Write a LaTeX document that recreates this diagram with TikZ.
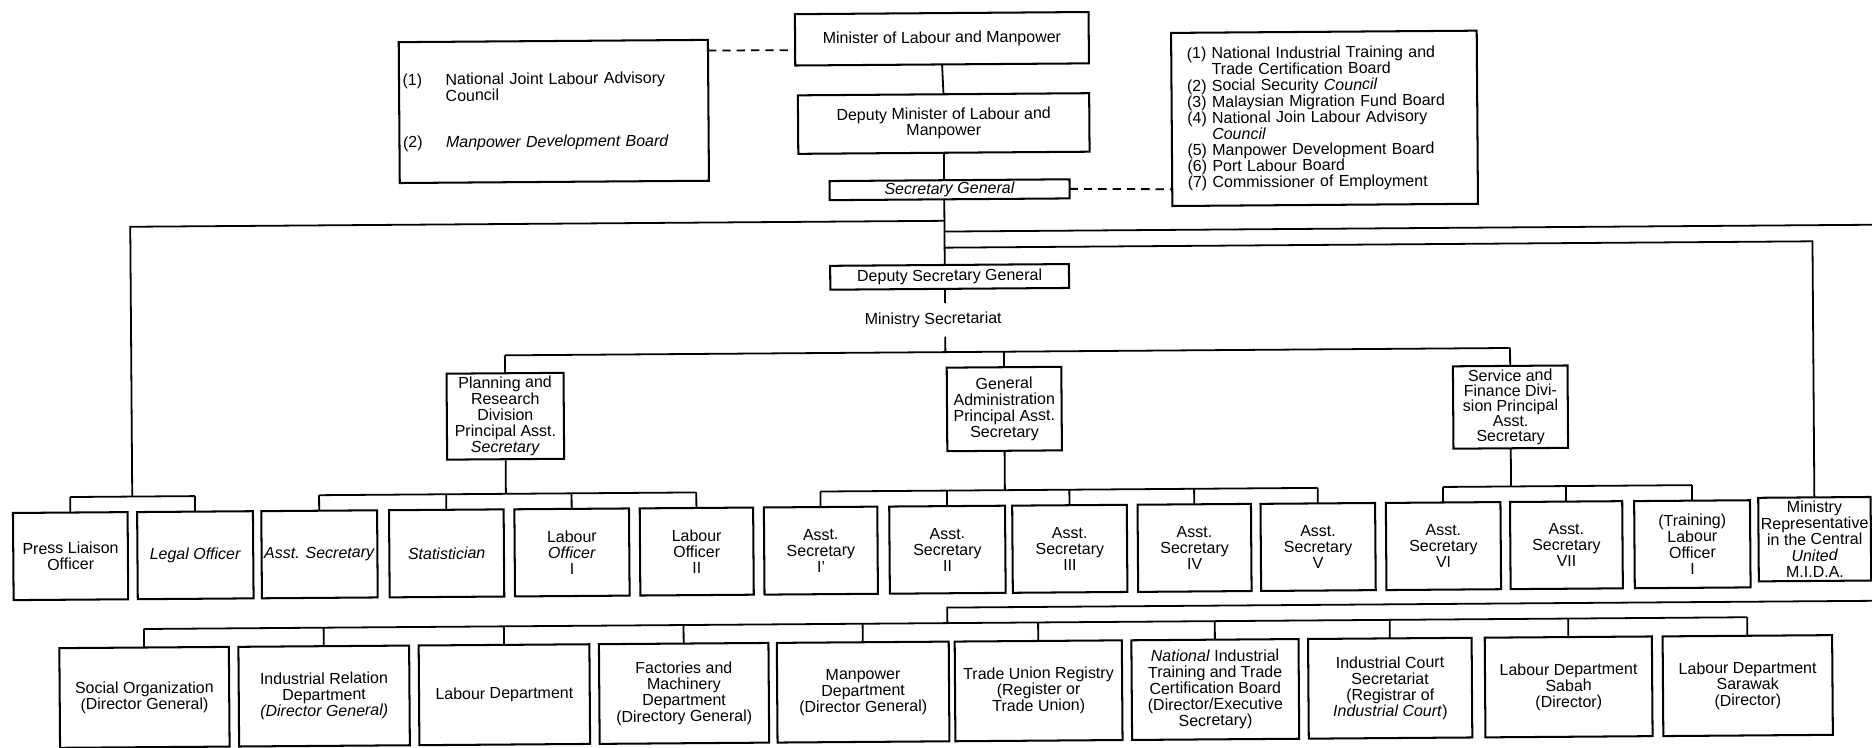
\documentclass[tikz,border=0pt]{standalone}
\usepackage{fontspec}
\setmainfont{Liberation Sans}
\usetikzlibrary{calc}
\tikzset{
  box/.style={draw, line width=0.85pt, inner xsep=1pt, inner ysep=0.5pt, align=center,
    font=\fontsize{6.7}{6.75}\selectfont, outer sep=0pt},
  conn/.style={line width=0.75pt},
  dashline/.style={line width=0.75pt, dash pattern=on 3.5pt off 2.5pt},
  lbl/.style={font=\fontsize{6.7}{6.75}\selectfont, inner sep=0pt}
}
\newcommand\bx[7][]{\node[box,minimum width={(#5-#3)*0.5pt},minimum height={(#6-#4)*0.5pt},#1] (#2) at ({(#3+#5)/2},{(#4+#6)/2}) {#7};}
\begin{document}
\begin{tikzpicture}[x=0.5pt,y=-0.5pt]
\useasboundingbox (0,0) rectangle (1568,626.5);
\fill[white] (0,0) rectangle (1568,626.5);
\begin{scope}[rotate around={0.42:(784,313)}, transform shape]
% ---------- top ----------
\bx[align=left, text width=126.5pt, inner xsep=1.5pt]{adv}{336}{32}{595}{150}{\makebox[18pt][l]{(1)}National Joint Labour Advisory\\\hspace*{18pt}Council\\[12.75pt]\makebox[18pt][l]{(2)}\textit{Manpower Development Board}}
\bx{min}{668}{11}{914}{54}{Minister of Labour and Manpower}
\bx{dmin}{670}{79}{914}{128}{Deputy Minister of Labour and\\Manpower}
\bx{sg}{696}{151}{897}{167}{\textit{Secretary General}}
\bx[align=left, text width=115pt, inner xsep=6.5pt]{boards}{983}{29}{1239}{174}{(1) National Industrial Training and\\\hphantom{(1) }Trade Certification Board\\(2) Social Security \textit{Council}\\(3) Malaysian Migration Fund Board\\(4) National Join Labour Advisory\\\hphantom{(4) }\textit{Council}\\(5) Manpower Development Board\\(6) Port Labour Board\\(7) Commissioner of Employment}
\bx{dsg}{696}{222}{896}{242}{Deputy Secretary General}
\node[lbl] (msec) at (782,268) {Ministry Secretariat};
% ---------- divisions ----------
\bx{plan}{374}{310}{472}{382}{Planning and\\Research\\Division\\Principal Asst.\\\textit{Secretary}}
\bx{admin}{793}{308}{889}{378}{General\\Administration\\Principal Asst.\\Secretary}
\bx[font=\fontsize{6.7}{6.3}\selectfont]{serv}{1217}{310}{1313}{379}{Service and\\Finance Divi-\\sion Principal\\Asst.\\Secretary}
% ---------- row 2 ----------
\bx{r1}{10}{424}{106}{497}{Press Liaison\\Officer}
\bx{r2}{114}{424}{211}{497}{\textit{Legal Officer}}
\bx{r3}{218}{424}{315}{497}{\textit{Asst. Secretary}}
\bx{r4}{325}{424}{421}{497}{\textit{Statistician}}
\bx{r5}{430}{424}{526}{497}{Labour\\\textit{Officer}\\I}
\bx{r6}{535}{424}{630}{497}{Labour\\Officer\\II}
\bx{r7}{639}{424}{734}{497}{Asst.\\Secretary\\I'}
\bx{r8}{744}{424}{841}{497}{Asst.\\Secretary\\II}
\bx{r9}{847}{424}{943}{497}{Asst.\\Secretary\\III}
\bx{r10}{952}{424}{1047}{497}{Asst.\\Secretary\\IV}
\bx{r11}{1055}{424}{1151}{497}{Asst.\\Secretary\\V}
\bx{r12}{1160}{424}{1256}{497}{Asst.\\Secretary\\VI}
\bx{r13}{1264}{424}{1358}{497}{Asst.\\Secretary\\VII}
\bx{r14}{1368}{424}{1465}{497}{(Training)\\Labour\\Officer\\I}
\bx{r15}{1472}{422}{1566}{492}{Ministry\\Representative\\in the Central\\\textit{United}\\M.I.D.A.}
% ---------- row 3 ----------
\bx{b1}{48}{537.5}{190}{621}{Social Organization\\(Director General)}
\bx{b2}{198}{537.5}{341}{621}{Industrial Relation\\Department\\\textit{(Director General)}}
\bx{b3}{349}{537.5}{492}{621}{Labour Department}
\bx{b4}{500}{537.5}{642}{621}{Factories and\\Machinery\\Department\\(Directory General)}
\bx{b5}{649}{537.5}{793}{621}{Manpower\\Department\\(Director General)}
\bx{b6}{798}{537.5}{938}{621}{Trade Union Registry\\(Register or\\Trade Union)}
\bx{b7}{946}{537.5}{1086}{621}{\textit{National} Industrial\\Training and Trade\\Certification Board\\(Director/Executive\\Secretary)}
\bx{b8}{1094}{537.5}{1231}{621}{Industrial Court\\Secretariat\\(Registrar of\\\textit{Industrial Court})}
\bx{b9}{1242}{537.5}{1382}{621}{Labour Department\\Sabah\\(Director)}
\bx{b10}{1391}{537.5}{1533}{621}{Labour Department\\Sarawak\\(Director)}
% ---------- junction coordinates ----------
\coordinate (jL) at (792,185);
\coordinate (cL) at (110,185);
\coordinate (jR) at (792,194);
\coordinate (eR) at (1590,194);
\coordinate (j2) at (792,207.5);
\coordinate (e2) at (1519,207.5);
\coordinate (sA) at (792,254);
\coordinate (sB) at (792,282);
\coordinate (bM) at (792,295);
\coordinate (bP) at (110,411);
\coordinate (bD) at (425,411);
\coordinate (bA) at (843,411);
\coordinate (bS) at (1265,411);
\coordinate (eB) at (1590,509);
\coordinate (jB) at (792,509);
\coordinate (bB) at (792,522);
% ---------- dashed links ----------
\draw[dashline] ($(adv.north east)!0.076!(adv.south east)$) -- ($(min.north west)!0.70!(min.south west)$);
\draw[dashline] (sg.east) -- ($(boards.north west)!0.903!(boards.south west)$);
% ---------- spine ----------
\draw[conn] (min.south) -- (dmin.north);
\draw[conn] (dmin.south) -- ([xshift=-2.25pt]sg.north);
\draw[conn] ([xshift=-2.25pt]sg.south) -- ([xshift=-2pt]dsg.north);
\draw[conn] ([xshift=-2pt]dsg.south) -- (sA);
\draw[conn] (sB) -- (bM);
\draw[conn] (jL) -- (cL) -- (bP);
\draw[conn] (jR) -- (eR);
\draw[conn] (j2) -- (e2) -- (r15.north);
% ---------- main bracket ----------
\draw[conn] ($(plan.north)!(bM)!(plan.south)$) -- ($(serv.north)!(bM)!(serv.south)$);
\foreach \c in {plan,admin,serv} \draw[conn] (\c.north) -- ($(\c.north)!(bM)!(\c.south)$);
% ---------- press / legal ----------
\draw[conn] ($(r1.north)!(bP)!(r1.south)$) -- ($(r2.north)!(bP)!(r2.south)$);
\foreach \c in {r1,r2} \draw[conn] (\c.north) -- ($(\c.north)!(bP)!(\c.south)$);
% ---------- planning ----------
\draw[conn] (plan.south) -- ($(plan.south)!(bD)!(plan.north)$);
\draw[conn] ($(r3.north)!(bD)!(r3.south)$) -- ($(r6.north)!(bD)!(r6.south)$);
\foreach \c in {r3,r4,r5,r6} \draw[conn] (\c.north) -- ($(\c.north)!(bD)!(\c.south)$);
% ---------- administration ----------
\draw[conn] (admin.south) -- ($(admin.south)!(bA)!(admin.north)$);
\draw[conn] ($(r7.north)!(bA)!(r7.south)$) -- ($(r11.north)!(bA)!(r11.south)$);
\foreach \c in {r7,r8,r9,r10,r11} \draw[conn] (\c.north) -- ($(\c.north)!(bA)!(\c.south)$);
% ---------- service ----------
\draw[conn] (serv.south) -- ($(serv.south)!(bS)!(serv.north)$);
\draw[conn] ($(r12.north)!(bS)!(r12.south)$) -- ($(r14.north)!(bS)!(r14.south)$);
\foreach \c in {r12,r13,r14} \draw[conn] (\c.north) -- ($(\c.north)!(bS)!(\c.south)$);
% ---------- departments ----------
\draw[conn] (eB) -- (jB) -- (bB);
\draw[conn] ($(b1.north)!(bB)!(b1.south)$) -- ($(b10.north)!(bB)!(b10.south)$);
\foreach \c in {b1,b2,b3,b4,b5,b6,b7,b8,b9,b10} \draw[conn] (\c.north) -- ($(\c.north)!(bB)!(\c.south)$);
\end{scope}
\end{tikzpicture}
\end{document}
